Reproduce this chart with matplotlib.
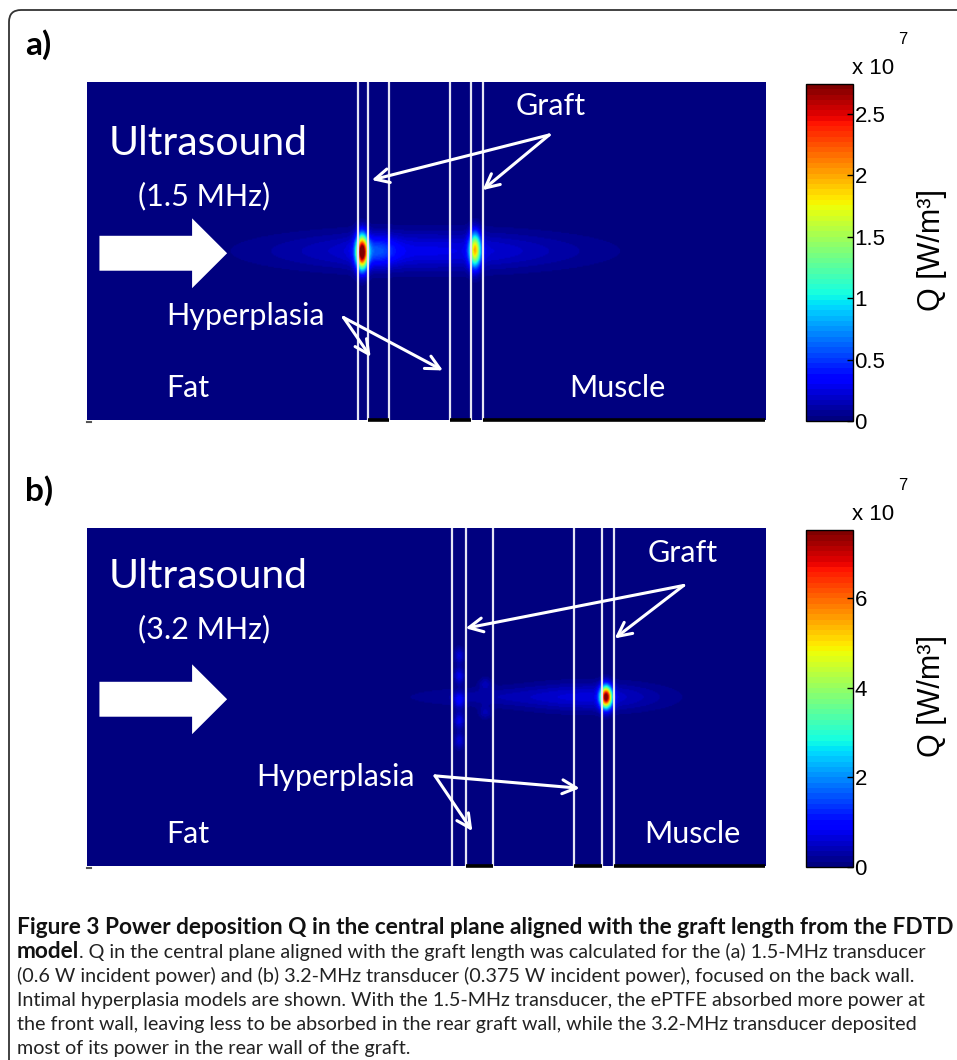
import numpy as np
import matplotlib
matplotlib.use("Agg")
import matplotlib.pyplot as plt
from matplotlib.patches import FancyArrow, FancyBboxPatch

# field extent in mm (x along beam, z across, measured from top)
XMAX = 60.0
ZMAX = 30.0

# panel a (1.5 MHz): tissue boundaries [mm] and hot spots
a_walls = [24.0, 24.9, 26.7, 32.1, 34.0, 35.0]
a_spot_x = [24.3, 34.3, 29.9, 25.6]
a_spot_z = [15.1, 14.9, 15.0, 15.0]
a_spot_q = [2.74e7, 1.75e7, 0.27e7, 0.35e7]
a_spot_sx = [0.35, 0.35, 9.0, 1.2]
a_spot_sz = [1.0, 1.0, 1.2, 0.9]
a_qmax = 2.74e7
a_ticks = [0, 0.5e7, 1e7, 1.5e7, 2e7, 2.5e7]
a_ticklabels = ["0", "0.5", "1", "1.5", "2", "2.5"]

# panel b (3.2 MHz)
b_walls = [32.3, 33.5, 35.9, 43.1, 45.6, 46.6]
b_spot_x = [45.9, 44.5, 34.8, 32.9, 32.9, 32.9, 32.9, 32.9, 35.2, 35.2]
b_spot_z = [15.0, 15.0, 15.0, 11.3, 13.1, 15.3, 17.1, 18.9, 13.8, 16.4]
b_spot_q = [7.5e7, 0.6e7, 0.25e7, 0.6e7, 0.75e7, 0.8e7, 0.75e7, 0.6e7, 0.35e7, 0.35e7]
b_spot_sx = [0.35, 4.5, 5.0, 0.3, 0.3, 0.3, 0.3, 0.3, 0.4, 0.4]
b_spot_sz = [0.65, 0.9, 0.6, 0.5, 0.5, 0.5, 0.5, 0.5, 0.4, 0.4]
b_qmax = 7.52e7
b_ticks = [0, 2e7, 4e7, 6e7]
b_ticklabels = ["0", "2", "4", "6"]

caption_bold = "Figure 3 Power deposition Q in the central plane aligned with the graft length from the FDTD"
caption_lines = [
    ". Q in the central plane aligned with the graft length was calculated for the (a) 1.5-MHz transducer",
    "(0.6 W incident power) and (b) 3.2-MHz transducer (0.375 W incident power), focused on the back wall.",
    "Intimal hyperplasia models are shown. With the 1.5-MHz transducer, the ePTFE absorbed more power at",
    "the front wall, leaving less to be absorbed in the rear graft wall, while the 3.2-MHz transducer deposited",
    "most of its power in the rear wall of the graft.",
]

W, H = 957, 1060
fig = plt.figure(figsize=(W / 100, H / 100), dpi=100)
fig.patch.set_facecolor("white")

LBL = ["Lato", "DejaVu Sans"]
ARIAL = ["Liberation Sans", "DejaVu Sans"]
cmap = plt.get_cmap("jet", 64)

xs = np.linspace(0, XMAX, 600)
zs = np.linspace(0, ZMAX, 300)
XX, ZZ = np.meshgrid(xs, zs)


def field(sx_, sz_, q_, wx_, wz_):
    f = np.zeros_like(XX)
    for x0, z0, q, wx, wz in zip(sx_, sz_, q_, wx_, wz_):
        f += q * np.exp(-0.5 * ((XX - x0) / wx) ** 2 - 0.5 * ((ZZ - z0) / wz) ** 2)
    return f


def pbox(px_l, px_t, px_r, px_b):
    return [px_l / W, 1 - px_b / H, (px_r - px_l) / W, (px_b - px_t) / H]


def panel(top, walls, spots, qmax, ticks, ticklabels, texts, graft, hyper, label):
    ax = fig.add_axes(pbox(87, top, 765, top + 338))
    q = field(*spots)
    ax.imshow(q, extent=[0, XMAX, ZMAX, 0], cmap=cmap, vmin=0, vmax=qmax,
              aspect="auto", interpolation="bilinear")
    ax.set_xlim(0, XMAX)
    ax.set_ylim(ZMAX, 0)
    ax.set_xticks([])
    ax.set_yticks([])
    for s in ax.spines.values():
        s.set_visible(False)
    for w in walls:
        ax.axvline(w, color="#e4e4f4", lw=1.6)
    # dark baseline pieces under the graft layers
    for x0, x1 in [(walls[1], walls[2]), (walls[3], walls[4]), (walls[5], XMAX)]:
        ax.plot([x0, x1], [ZMAX, ZMAX], color="black", lw=2.6, clip_on=False,
                solid_capstyle="butt")
    ax.plot([0, 0.35], [ZMAX + 0.2, ZMAX + 0.2], color="#555555", lw=1.5, clip_on=False)

    ax.add_patch(FancyArrow(1.1, 15.2, 11.3, 0, width=3.1, head_width=6.2,
                            head_length=3.1, length_includes_head=True,
                            color="white", lw=0))
    for s, x, z, fs in texts:
        ax.text(x, z, s, color="white", fontsize=fs, family=LBL, va="baseline", ha="left")
    for (x0, z0), ends in [graft, hyper]:
        for x1, z1 in ends:
            ax.annotate("", xy=(x1, z1), xytext=(x0, z0),
                        arrowprops=dict(arrowstyle="->,head_length=1.0,head_width=0.5",
                                        color="white", lw=2.2, shrinkA=0, shrinkB=0))

    cax = fig.add_axes(pbox(806, top + 2, 853, top + 338 + 1))
    sm = plt.cm.ScalarMappable(cmap=cmap, norm=plt.Normalize(0, qmax))
    cb = fig.colorbar(sm, cax=cax, ticks=ticks)
    cb.ax.set_yticklabels(ticklabels, family=ARIAL, fontsize=16)
    cb.ax.tick_params(direction="in", length=4, width=1, pad=1)
    cb.outline.set_linewidth(1.0)
    fig.text(852 / W, 1 - (top - 14) / H, "x 10", family=ARIAL, fontsize=16,
             ha="left", va="center")
    fig.text(903 / W, 1 - (top - 42) / H, "7", family=ARIAL, fontsize=12,
             ha="center", va="center")
    fig.text(932 / W, 1 - (top + 168) / H, "Q [W/m³]", family=ARIAL, fontsize=22,
             rotation=90, ha="center", va="center")
    fig.text(25 / W, 1 - (top - 37) / H, label, family=LBL, fontsize=24,
             fontweight="bold", ha="left", va="center")


SM = 22
panel(82, a_walls, (a_spot_x, a_spot_z, a_spot_q, a_spot_sx, a_spot_sz), a_qmax,
      a_ticks, a_ticklabels,
      [("Ultrasound", 1.9, 6.5, 29.5), ("(1.5 MHz)", 4.5, 11.0, SM),
       ("Graft", 37.9, 2.9, SM), ("Hyperplasia", 7.0, 21.6, SM),
       ("Fat", 7.0, 28.0, SM), ("Muscle", 42.7, 28.0, SM)],
      ((40.9, 4.7), [(25.2, 8.7), (35.0, 9.6)]),
      ((22.7, 20.9), [(25.1, 24.4), (31.5, 25.6)]), "a)")

panel(528, b_walls, (b_spot_x, b_spot_z, b_spot_q, b_spot_sx, b_spot_sz), b_qmax,
      b_ticks, b_ticklabels,
      [("Ultrasound", 1.9, 5.3, 29.5), ("(3.2 MHz)", 4.5, 9.8, SM),
       ("Graft", 49.6, 3.0, SM), ("Hyperplasia", 15.0, 22.9, SM),
       ("Fat", 7.0, 28.0, SM), ("Muscle", 49.3, 28.0, SM)],
      ((52.8, 5.1), [(33.5, 8.9), (46.7, 9.8)]),
      ((30.8, 22.0), [(34.1, 26.9), (43.6, 23.1)]), "b)")

# caption
CAP = ["Lato", "DejaVu Sans"]
y0 = 934
fig.text(17 / W, 1 - y0 / H, caption_bold, family=CAP, fontsize=16.3,
         fontweight="bold", va="baseline", ha="left", color="#111111")
tb = fig.text(17 / W, 1 - (y0 + 24) / H, "model", family=CAP, fontsize=16.3,
              fontweight="bold", va="baseline", ha="left", color="#111111")
fig.canvas.draw()
bb = tb.get_window_extent()
fig.text(bb.x1 / W, 1 - (y0 + 24) / H, caption_lines[0], family=CAP, fontsize=14.2,
         va="baseline", ha="left", color="#222222")
for i, line in enumerate(caption_lines[1:]):
    fig.text(17 / W, 1 - (y0 + 24 * (i + 2)) / H, line, family=CAP, fontsize=14.2,
             va="baseline", ha="left", color="#222222")

# rounded frame around the figure
fig.add_artist(FancyBboxPatch((0.09, -0.5), 10.0, 11.0,
                              boxstyle="round,pad=0,rounding_size=0.12",
                              transform=fig.dpi_scale_trans, fill=False,
                              lw=1.3, ec="#333333"))

fig.savefig("out.png", dpi=100)
